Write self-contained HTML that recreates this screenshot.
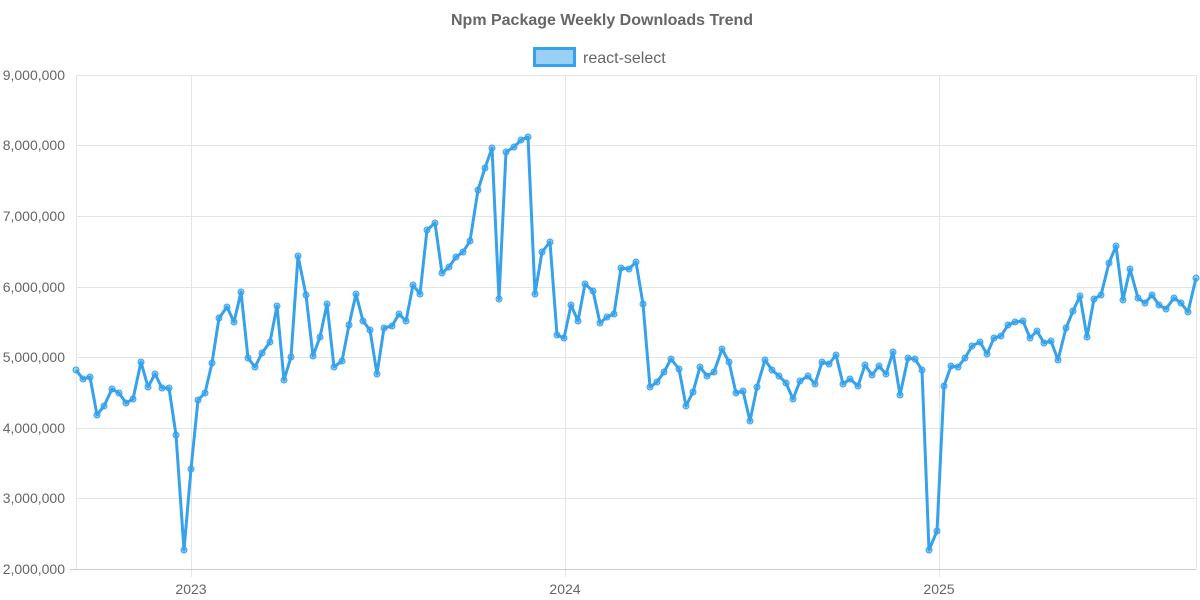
<!DOCTYPE html>
<html><head><meta charset="utf-8"><style>body{margin:0;background:#fff}svg{display:block;font-family:"Liberation Sans",sans-serif}</style></head>
<body>
<svg width="1200" height="600" viewBox="0 0 1200 600">
<text x="602" y="25" text-anchor="middle" font-size="16" font-weight="bold" fill="#666">Npm Package Weekly Downloads Trend</text>
<rect x="534.5" y="48.5" width="40" height="17" fill="rgba(54,162,235,0.5)" stroke="#36a2eb" stroke-width="3"/>
<text x="583" y="63" font-size="16" fill="#666">react-select</text>
<g stroke="#e5e5e5" stroke-width="1">
<line x1="76" y1="75.5" x2="1196" y2="75.5"/><line x1="76" y1="145.5" x2="1196" y2="145.5"/><line x1="76" y1="216.5" x2="1196" y2="216.5"/><line x1="76" y1="287.5" x2="1196" y2="287.5"/><line x1="76" y1="357.5" x2="1196" y2="357.5"/><line x1="76" y1="428.5" x2="1196" y2="428.5"/><line x1="76" y1="498.5" x2="1196" y2="498.5"/>
<line x1="76.5" y1="75" x2="76.5" y2="569"/><line x1="191.5" y1="75" x2="191.5" y2="577"/><line x1="565.5" y1="75" x2="565.5" y2="577"/><line x1="939.5" y1="75" x2="939.5" y2="577"/><line x1="1196.5" y1="75" x2="1196.5" y2="569"/>
</g>
<line x1="70" y1="569.5" x2="1196" y2="569.5" stroke="#ccc"/>
<g font-size="14" fill="#666" text-anchor="end">
<text x="65" y="80">9,000,000</text><text x="65" y="150">8,000,000</text><text x="65" y="221">7,000,000</text><text x="65" y="292">6,000,000</text><text x="65" y="362">5,000,000</text><text x="65" y="433">4,000,000</text><text x="65" y="503">3,000,000</text><text x="65" y="574">2,000,000</text>
</g>
<g font-size="14" fill="#666" text-anchor="middle">
<text x="191" y="594">2023</text><text x="565" y="594">2024</text><text x="939" y="594">2025</text>
</g>
<polyline id="l" fill="none" stroke="#36a2eb" stroke-width="3" stroke-linejoin="round" points="76,370 83,379 90,377 97,415 104,406 112,389 119,393 126,403 133,399 141,362 148,387 155,374 162,388 169,388 176,435 184,550 191,469 198,400 205,393 212,363 219,318 227,307 234,322 241,292 248,358 255,367 262,353 270,342 277,306 284,380 291,357 298,256 306,295 313,356 320,337 327,304 334,367 342,361 349,325 356,294 363,321 370,330 377,374 384,328 392,326 399,314 406,321 413,285 420,294 427,230 435,223 442,273 449,267 456,257 463,252 470,241 478,190 485,168 492,148 499,299 506,152 514,147 521,140 528,137 535,294 542,252 550,242 557,335 564,338 571,305 578,321 585,284 593,291 600,323 607,317 614,314 621,268 629,269 636,262 643,304 650,387 657,382 664,372 671,359 679,369 686,406 693,392 700,367 707,376 714,372 722,349 729,362 736,393 743,391 750,421 757,387 765,360 772,370 779,376 786,383 793,399 800,381 808,376 815,384 822,362 829,364 836,355 843,384 850,379 858,386 865,365 872,375 879,366 886,374 893,352 900,395 908,358 915,359 922,370 929,550 937,531 944,386 951,366 958,367 965,358 972,346 980,342 987,354 994,338 1001,336 1008,325 1015,322 1023,321 1030,338 1037,331 1044,343 1051,341 1058,360 1066,328 1073,311 1080,296 1087,337 1094,299 1101,295 1109,263 1116,246 1123,300 1130,269 1138,298 1145,303 1152,295 1159,305 1166,309 1174,298 1181,303 1188,312 1196,278"/>
<g id="pts" fill="rgba(54,162,235,0.5)" stroke="#36a2eb" stroke-width="1"></g>
</svg>
<script>
var p=document.getElementById('l').getAttribute('points').trim().split(/\s+/),g=document.getElementById('pts'),s='';
p.forEach(function(q){var a=q.split(',');s+='<circle cx="'+a[0]+'" cy="'+a[1]+'" r="3"/>';});
g.innerHTML=s;
</script>
</body></html>
